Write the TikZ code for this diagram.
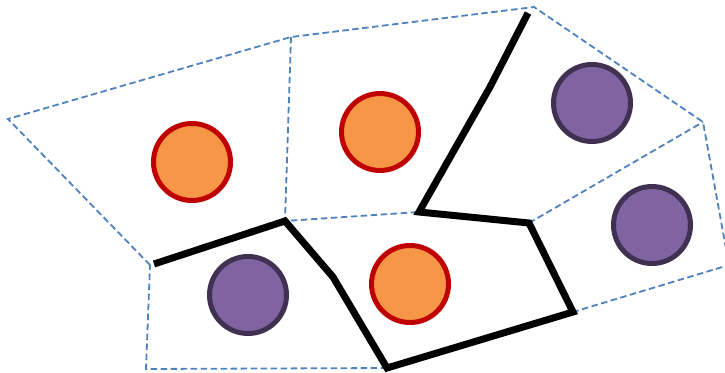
\documentclass[tikz,border=0pt]{standalone}
\begin{document}
\begin{tikzpicture}[x=1pt,y=-1pt,
  cell/.style={draw={rgb,255:red,79;green,129;blue,189},line width=1.8pt,dash pattern=on 6.5pt off 3.5pt},
  wall/.style={draw=black,line width=7pt},
  orangeball/.style={circle,draw={rgb,255:red,192;green,0;blue,0},fill={rgb,255:red,247;green,150;blue,70},line width=5pt,minimum size=77pt,inner sep=0pt},
  purpleball/.style={circle,draw={rgb,255:red,64;green,49;blue,82},fill={rgb,255:red,128;green,100;blue,162},line width=5pt,minimum size=77pt,inner sep=0pt}]
\useasboundingbox (0,0) rectangle (725,372);
\clip (0,0) rectangle (725,372);
% vertices
\coordinate (vL) at (8,119);
\coordinate (vT1) at (291,37);
\coordinate (vT2) at (534,7);
\coordinate (vR1) at (703,122);
\coordinate (vR2) at (729,265);
\coordinate (vBR) at (573,312);
\coordinate (vB) at (387,368);
\coordinate (vBL) at (146,369);
\coordinate (vLL) at (150,265);
\coordinate (vM1) at (285,221);
\coordinate (vM2) at (419,212);
\coordinate (vM3) at (529,223);
% wall kinks
\coordinate (wS) at (154,264);
\coordinate (wK1) at (333,277);
\coordinate (wK2) at (490,87);
\coordinate (wE) at (528,13);
% dashed cells
\draw[cell] (vLL) -- (vL) -- (vT1) -- (vT2) -- (vR1) -- (vR2) -- (vBR);
\draw[cell] (vB) -- (vBL) -- (vLL);
\draw[cell] (vT1) -- (vM1) -- (vM2);
\draw[cell] (vM3) -- (vR1);
% thick wall
\draw[wall] (wS) -- (vM1) -- (wK1) -- (vB) -- (vBR) -- (vM3) -- (vM2) -- (wK2) -- (wE);
% balls
\node[orangeball] (o1) at (192,162) {};
\node[orangeball] (o2) at (380,132) {};
\node[orangeball] (o3) at (410,284) {};
\node[purpleball] (p1) at (592,103) {};
\node[purpleball] (p2) at (652,225) {};
\node[purpleball] (p3) at (248,295) {};
\end{tikzpicture}
\end{document}
